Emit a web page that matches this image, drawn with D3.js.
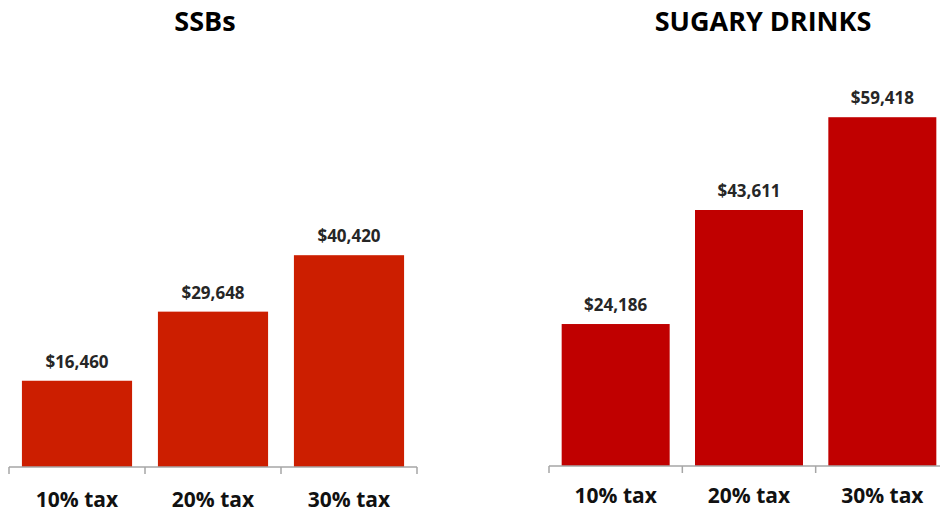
<!DOCTYPE html>
<html>
<head>
<meta charset="utf-8">
<script src="https://cdn.jsdelivr.net/npm/d3@7"></script>
<style>
  html, body { margin: 0; padding: 0; background: #fff; }
  svg { display: block; font-family: "Open Sans", "Liberation Sans", sans-serif; }
</style>
</head>
<body>
<svg id="chart" width="940" height="515"></svg>
<script>
const categories = ["10% tax", "20% tax", "30% tax"];
const ssbValues = [16460, 29648, 40420];
const sugaryValues = [24186, 43611, 59418];
const panelTitles = ["SSBs", "SUGARY DRINKS"];

const svg = d3.select("#chart");
const fmt = v => "$" + d3.format(",")(v);

function drawPanel(cfg) {
  const g = svg.append("g");
  const x = d3.scaleBand().domain(categories).range([cfg.x0, cfg.x1])
    .paddingInner(0.19).paddingOuter(0.095);
  const y = d3.scaleLinear().domain([0, cfg.yMax]).range([cfg.base, cfg.top]);

  // bars
  g.selectAll("rect.bar").data(cfg.values).join("rect")
    .attr("class", "bar")
    .attr("x", (d, i) => x(categories[i]))
    .attr("width", x.bandwidth())
    .attr("y", d => y(d))
    .attr("height", d => y(0) - y(d))
    .attr("fill", cfg.color);

  // value labels
  g.selectAll("text.val").data(cfg.values).join("text")
    .attr("class", "val")
    .attr("x", (d, i) => x(categories[i]) + x.bandwidth() / 2)
    .attr("y", d => y(d) - 13)
    .attr("text-anchor", "middle")
    .attr("font-size", 17)
    .attr("font-weight", 700)
    .attr("fill", "#262626")
    .text(fmt);

  // axis
  const axis = d3.axisBottom(x).tickSize(0).tickPadding(cfg.labelPad);
  const ag = g.append("g").attr("transform", `translate(0,${cfg.base})`).call(axis);
  ag.select(".domain").attr("stroke", "#a6a6a6").attr("stroke-width", 1.5)
    .attr("d", `M${cfg.x0},0H${cfg.x1}`);
  ag.selectAll(".tick text")
    .attr("font-size", 21).attr("font-weight", 700)
    .attr("fill", "#111").attr("font-family", "Open Sans, sans-serif");
  // category boundary ticks
  const bounds = categories.map(c => x(c) - x.step() * x.paddingOuter()).concat([cfg.x1]);
  ag.selectAll("line.bound").data(bounds).join("line")
    .attr("class", "bound")
    .attr("x1", d => d).attr("x2", d => d)
    .attr("y1", 0).attr("y2", 7)
    .attr("stroke", "#a6a6a6").attr("stroke-width", 1.5);

  // title
  g.append("text")
    .attr("x", cfg.titleX).attr("y", 31)
    .attr("text-anchor", "middle")
    .attr("font-size", 27).attr("font-weight", 700)
    .attr("fill", "#000")
    .text(cfg.title);
}

drawPanel({
  values: ssbValues, title: panelTitles[0], titleX: 205, labelPad: 25,
  x0: 9, x1: 417, base: 467, top: 467 - 0.00524 * 45000, yMax: 45000,
  color: "#cc1e00"
});
drawPanel({
  values: sugaryValues, title: panelTitles[1], titleX: 763, labelPad: 22,
  x0: 549, x1: 949, base: 466, top: 466 - 0.00587 * 65000, yMax: 65000,
  color: "#c00000"
});
</script>
</body>
</html>
